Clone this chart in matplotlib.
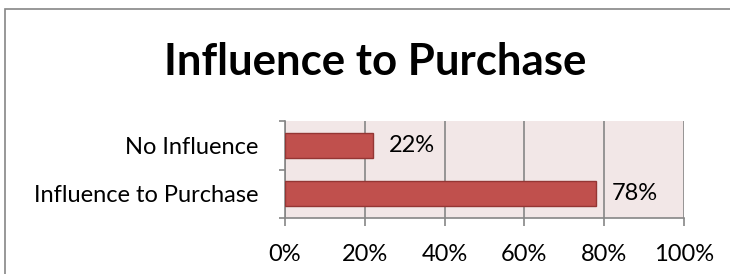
import matplotlib
matplotlib.use("Agg")
import matplotlib.pyplot as plt
from matplotlib.patches import Rectangle
from matplotlib.ticker import FixedLocator, FuncFormatter

categories = ["Influence to Purchase", "No Influence"]
values = [78, 22]
xticks = [0, 20, 40, 60, 80, 100]
title = "Influence to Purchase"

plt.rcParams['font.family'] = ['Lato', 'DejaVu Sans']

fig = plt.figure(figsize=(7.3, 2.74), dpi=100)
fig.patch.set_facecolor("white")
# outer chart border
fig.add_artist(Rectangle((5/730, -0.1), 2.0, 1 - 9/274 + 0.1, transform=fig.transFigure,
                         fill=False, edgecolor="#868686", linewidth=1.2))

ax = fig.add_axes([285/730, 56/274, 399/730, 97/274])
ax.set_facecolor("#F2E7E7")
ypos = list(range(len(categories)))
ax.barh(ypos, values, height=0.52, color="#C0504D", edgecolor="#943634", linewidth=1.0, zorder=3)
for y, v in zip(ypos, values):
    ax.text(v + 4, y, f"{v}%", va="center", ha="left", fontsize=17, color="black", zorder=4)

ax.set_xlim(0, 100)
ax.set_ylim(-0.5, len(categories) - 0.5)
ax.set_xticks(xticks)
ax.xaxis.set_major_formatter(FuncFormatter(lambda v, p: f"{int(v)}%"))
ax.set_yticks(ypos)
ax.set_yticklabels(categories)
ax.yaxis.set_minor_locator(FixedLocator([-0.5, 0.5, 1.5]))
ax.tick_params(axis="y", which="major", length=0, pad=19, labelsize=17)
ax.tick_params(axis="y", which="minor", length=4, color="#868686", width=1.2)
ax.tick_params(axis="x", which="major", length=6, color="#868686", width=1.2, pad=13, labelsize=17)
ax.grid(axis="x", color="#868686", linewidth=1.2, zorder=1)
for s in ["top", "right"]:
    ax.spines[s].set_visible(False)
for s in ["left", "bottom"]:
    ax.spines[s].set_color("#868686")
    ax.spines[s].set_linewidth(1.2)

fig.text(375/730, 1 - 62/274, title, ha="center", va="center", fontsize=31.5, fontweight="bold")

fig.savefig("out.png", dpi=100)
